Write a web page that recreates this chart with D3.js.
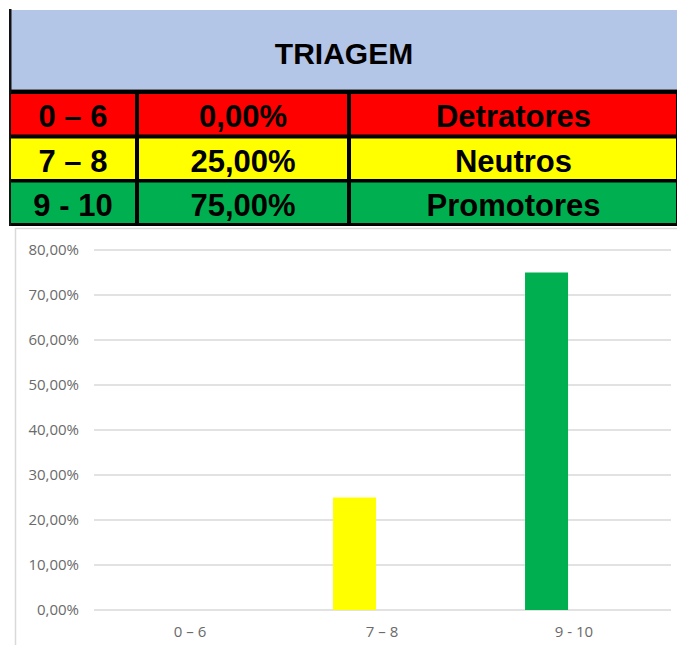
<!DOCTYPE html>
<html>
<head>
<meta charset="utf-8">
<script src="https://cdn.jsdelivr.net/npm/d3@7"></script>
<style>
  html, body { margin: 0; padding: 0; background: #fff; }
  svg { display: block; }
</style>
</head>
<body>
<svg id="chart" width="677" height="645"></svg>
<script>
// ---- data ----
const title = "TRIAGEM";
const categories = ["0 – 6", "7 – 8", "9 - 10"];
const values = [0, 0.25, 0.75];
const groupNames = ["Detratores", "Neutros", "Promotores"];
const rowColors = ["#FF0000", "#FFFF00", "#00B050"];
const yTicks = [0, 0.1, 0.2, 0.3, 0.4, 0.5, 0.6, 0.7, 0.8];

const fmtPct = v => d3.format(".2f")(v * 100).replace(".", ",") + "%";

const svg = d3.select("#chart");

// ---- table ----
const tLeft = 11, tRight = 677;
const headerTop = 10, headerBottom = 89.5;
const rowTops = [94, 138.5, 182.5];
const rowH = 40.5;
const colX = [tLeft, 137, 349, tRight];

// header
svg.append("rect").attr("x", tLeft).attr("y", headerTop).attr("width", tRight - tLeft).attr("height", headerBottom - headerTop).attr("fill", "#B4C6E7");
svg.append("text").attr("x", (tLeft + tRight) / 2).attr("y", 63.5)
  .attr("text-anchor", "middle")
  .attr("font-family", "Liberation Sans, Arial, sans-serif")
  .attr("font-weight", "bold").attr("font-size", 30).attr("fill", "#000")
  .text(title);

// black background for borders of rows
svg.append("rect").attr("x", tLeft).attr("y", headerBottom).attr("width", tRight - tLeft).attr("height", 226 - headerBottom).attr("fill", "#000");
// left border
svg.append("rect").attr("x", 9).attr("y", 9).attr("width", 2.5).attr("height", 217).attr("fill", "#111");

const rows = svg.append("g");
categories.forEach((c, i) => {
  const cells = [c, fmtPct(values[i]), groupNames[i]];
  for (let j = 0; j < 3; j++) {
    const x0 = j === 0 ? colX[0] : colX[j] + 2;
    const x1 = j === 2 ? colX[3] - 1 : colX[j + 1] - 2;
    rows.append("rect").attr("x", x0).attr("y", rowTops[i]).attr("width", x1 - x0).attr("height", rowH).attr("fill", rowColors[i]);
    rows.append("text").attr("x", (x0 + x1) / 2).attr("y", rowTops[i] + 33)
      .attr("text-anchor", "middle")
      .attr("font-family", "Liberation Sans, Arial, sans-serif")
      .attr("font-weight", "bold").attr("font-size", 31).attr("fill", "#000")
      .text(cells[j]);
  }
});

// ---- chart area ----
svg.append("line").attr("x1", 15).attr("x2", 677).attr("y1", 228.5).attr("y2", 228.5).attr("stroke", "#d9d9d9").attr("stroke-width", 1.5);
svg.append("line").attr("x1", 15.5).attr("x2", 15.5).attr("y1", 228).attr("y2", 645).attr("stroke", "#d9d9d9").attr("stroke-width", 1.5);

const plotLeft = 94, plotRight = 670, plotTop = 250, plotBottom = 610;
const y = d3.scaleLinear().domain([0, 0.8]).range([plotBottom, plotTop]);
const x = d3.scaleBand().domain(categories).range([plotLeft, plotRight]).padding(0);

// gridlines
svg.append("g").selectAll("line").data(yTicks).join("line")
  .attr("x1", plotLeft).attr("x2", plotRight + 1)
  .attr("y1", d => y(d)).attr("y2", d => y(d))
  .attr("stroke", "#d9d9d9").attr("stroke-width", 1.3);

// y axis labels
const yAxis = d3.axisLeft(y).tickValues(yTicks).tickFormat(fmtPct).tickSize(0).tickPadding(0);
const gy = svg.append("g").attr("transform", `translate(79,0)`).call(yAxis);
gy.select(".domain").remove();
gy.selectAll("text").attr("font-family", "Open Sans, sans-serif").attr("font-size", 15).attr("fill", "#6a6a6a");

// x axis labels
const xAxis = d3.axisBottom(x).tickSize(0).tickPadding(0);
const gx = svg.append("g").attr("transform", `translate(0,${plotBottom + 16})`).call(xAxis);
gx.select(".domain").remove();
gx.selectAll("text").attr("font-family", "Open Sans, sans-serif").attr("font-size", 15).attr("fill", "#6a6a6a");

// bars
const bw = x.bandwidth();
svg.append("g").selectAll("rect").data(categories).join("rect")
  .attr("x", d => x(d) + bw * 0.245)
  .attr("width", bw * 0.224)
  .attr("y", (d, i) => y(values[i]))
  .attr("height", (d, i) => y(0) - y(values[i]))
  .attr("fill", (d, i) => rowColors[i]);
</script>
</body>
</html>
